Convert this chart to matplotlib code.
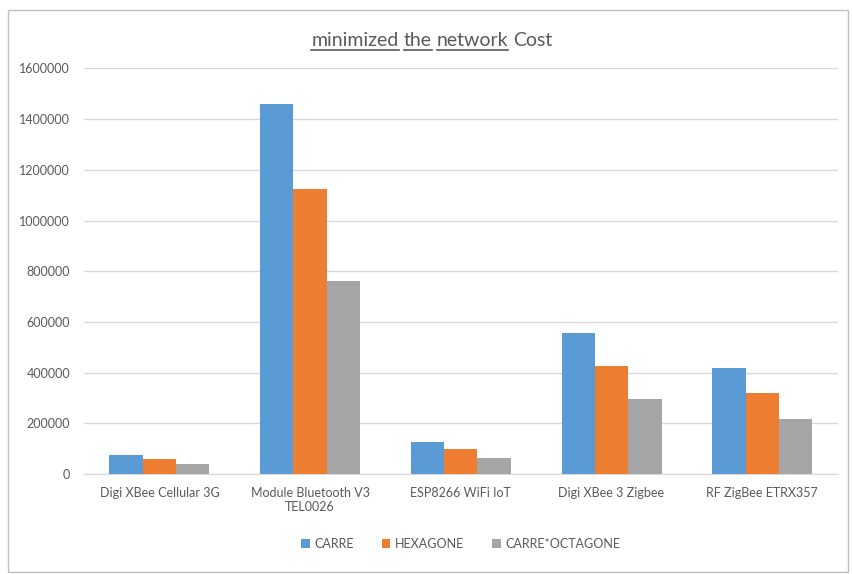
import numpy as np
import matplotlib.pyplot as plt
from matplotlib.patches import Rectangle

# data
categories = ['Digi XBee Cellular 3G', 'Module Bluetooth V3\nTEL0026', 'ESP8266 WiFi IoT',
              'Digi XBee 3 Zigbee', 'RF ZigBee ETRX357']
carre = [74000, 1458000, 127000, 555000, 417000]
hexagone = [59000, 1126000, 99000, 426000, 321000]
carre_octagone = [41000, 762000, 64000, 294000, 216000]
series_names = ['CARRE', 'HEXAGONE', 'CARRE*OCTAGONE']
colors = ['#5B9BD5', '#ED7D31', '#A5A5A5']
yticks = [0, 200000, 400000, 600000, 800000, 1000000, 1200000, 1400000, 1600000]

plt.rcParams['font.family'] = ['Lato', 'DejaVu Sans']
text_col = '#595959'

fig = plt.figure(figsize=(8.53, 5.74), dpi=100)
ax = fig.add_axes([0.0985, 0.1742, 0.8835, 0.7066])

x = np.arange(len(categories))
w = 0.221
for i, (vals, name) in enumerate(zip([carre, hexagone, carre_octagone], series_names)):
    ax.bar(x + (i - 1) * w, vals, width=w, color=colors[i], label=name, zorder=3)

ax.set_xlim(-0.5, len(categories) - 0.5)
ax.set_ylim(0, 1600000)
ax.set_yticks(yticks)
ax.set_yticklabels([str(v) for v in yticks])
ax.set_xticks(x)
ax.set_xticklabels(categories)
ax.grid(axis='y', color='#D9D9D9', linewidth=1, zorder=0)
for s in ax.spines.values():
    s.set_visible(False)
ax.spines['bottom'].set_visible(True)
ax.spines['bottom'].set_color('#D9D9D9')
ax.tick_params(axis='both', length=0, labelsize=9, colors=text_col)
ax.tick_params(axis='y', pad=10)
ax.tick_params(axis='x', pad=9)

# legend
ax.legend(loc='upper center', bbox_to_anchor=(0.5, -0.13), ncol=3, frameon=False,
          fontsize=9, labelcolor=text_col, handlelength=0.7, handleheight=0.7,
          columnspacing=2.2, handletextpad=0.4)

# title with underlined words
words = ['minimized', 'the', 'network', 'Cost']
underline = [True, True, True, False]
fig.canvas.draw()
renderer = fig.canvas.get_renderer()
pieces = []
for wd in words:
    t = fig.text(0, 0, wd, fontsize=14, color=text_col)
    pieces.append(t)
space = fig.text(0, 0, 'a b', fontsize=14)
sb = fig.text(0, 0, 'ab', fontsize=14)
sp_w = (space.get_window_extent(renderer).width - sb.get_window_extent(renderer).width) / fig.bbox.width
space.remove()
sb.remove()
widths = [p.get_window_extent(renderer).width / fig.bbox.width for p in pieces]
total = sum(widths) + sp_w * (len(words) - 1)
cx = 432 / 853
ty = 1 - 46 / 574
xpos = cx - total / 2
for p, wdt, ul in zip(pieces, widths, underline):
    p.set_position((xpos, ty))
    if ul:
        uy = ty - 4 / 574
        fig.add_artist(plt.Line2D([xpos, xpos + wdt], [uy, uy], color=text_col,
                                  linewidth=1.2, transform=fig.transFigure))
    xpos += wdt + sp_w

# chart area border
fig.add_artist(Rectangle((8 / 853, 2 / 574), 840 / 853, 562 / 574, transform=fig.transFigure,
                         fill=False, edgecolor='#BFBFBF', linewidth=1))

fig.savefig('out.png', dpi=100)
